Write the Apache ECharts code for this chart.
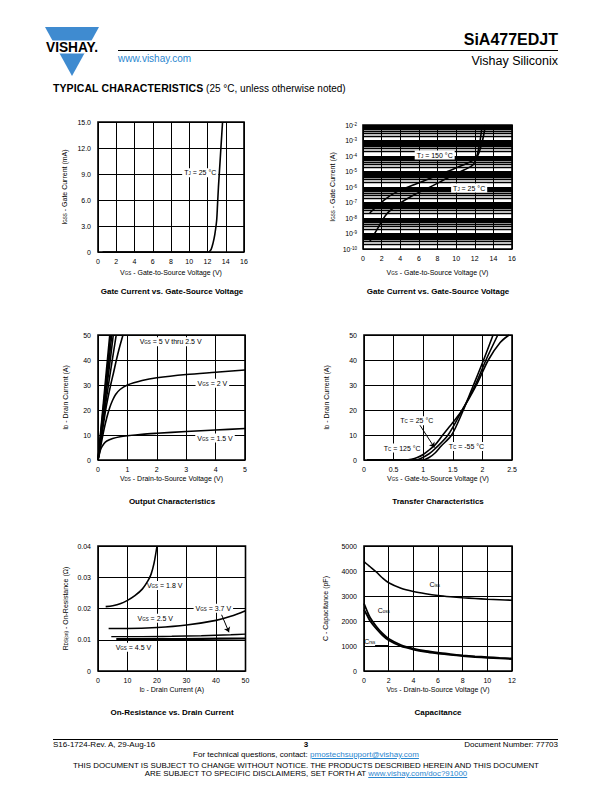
<!DOCTYPE html>
<html><head><meta charset="utf-8">
<script src="https://cdn.jsdelivr.net/npm/echarts@6/dist/echarts.min.js"></script>
<style>
body{margin:0;width:612px;height:792px;position:relative;font-family:"Liberation Sans",Arial,sans-serif;background:#fff;overflow:hidden;color:#000}
#c{position:absolute;left:0;top:0;width:612px;height:792px}
.t{position:absolute;white-space:nowrap;line-height:1}
.ctr{transform:translateX(-50%)}
.ttl{font-weight:bold;font-size:8px}
a{color:#2a86cf;text-decoration:underline}
</style></head><body>
<div id="c"></div>
<svg style="position:absolute;left:0;top:0" width="130" height="90">
<polygon points="45,27 99,27 72,76" fill="#3f8bd0"/>
<rect x="38" y="40.5" width="68" height="13" fill="#fff"/>
<text x="72" y="52" text-anchor="middle" font-family="Liberation Sans" font-weight="bold" font-size="14" textLength="52" lengthAdjust="spacingAndGlyphs">VISHAY.</text>
</svg>
<div class="t" style="right:54px;top:32px;font-size:16px;font-weight:bold">SiA477EDJT</div>
<div style="position:absolute;left:118px;top:50px;width:440px;height:1px;background:#000"></div>
<div class="t" style="right:54px;top:55px;font-size:12.5px">Vishay Siliconix</div>
<div class="t" style="left:118px;top:54px;font-size:10px;color:#2a86cf">www.vishay.com</div>
<div class="t" style="left:53px;top:83px;font-size:10px"><b style="font-size:10.5px;letter-spacing:0.1px">TYPICAL CHARACTERISTICS</b> <span style="font-size:10px">(25 °C, unless otherwise noted)</span></div>

<div class="t ttl ctr" style="left:172px;top:288px">Gate Current vs. Gate-Source Voltage</div>
<div class="t ttl ctr" style="left:438px;top:288px">Gate Current vs. Gate-Source Voltage</div>
<div class="t ttl ctr" style="left:172px;top:498px">Output Characteristics</div>
<div class="t ttl ctr" style="left:438px;top:498px">Transfer Characteristics</div>
<div class="t ttl ctr" style="left:172px;top:709px">On-Resistance vs. Drain Current</div>
<div class="t ttl ctr" style="left:438px;top:709px">Capacitance</div>

<div style="position:absolute;left:53px;top:739px;width:505px;height:1px;background:#000"></div>
<div class="t" style="left:53px;top:741px;font-size:8px">S16-1724-Rev. A, 29-Aug-16</div>
<div class="t ctr" style="left:306px;top:741px;font-size:8px;font-weight:bold">3</div>
<div class="t" style="right:54px;top:741px;font-size:8px">Document Number: 77703</div>
<div class="t ctr" style="left:306px;top:751px;font-size:8px">For technical questions, contact: <a>pmostechsupport@vishay.com</a></div>
<div class="t ctr" style="left:306px;top:762px;font-size:7.9px">THIS DOCUMENT IS SUBJECT TO CHANGE WITHOUT NOTICE. THE PRODUCTS DESCRIBED HEREIN AND THIS DOCUMENT</div>
<div class="t ctr" style="left:306px;top:770px;font-size:7.9px">ARE SUBJECT TO SPECIFIC DISCLAIMERS, SET FORTH AT <a>www.vishay.com/doc?91000</a></div>

<script>
// ---------- DATA ----------
// Chart 1: Gate current vs VGS (linear, mA)
const gateVgs = [0.5, 2, 4, 6, 8, 10, 12, 12.2, 12.4, 12.6, 12.8, 13.0, 13.1, 13.2, 13.35, 13.5, 13.65];
const gateI25 = [0, 0, 0, 0, 0, 0, 0, 0.05, 0.3, 1.0, 2.0, 3.6, 5.5, 7.5, 10, 12.5, 15];
const gateYTicks = ['0', '3.0', '6.0', '9.0', '12.0', '15.0'];

// Chart 2: Gate current vs VGS (log, A)
const logVgs150 = [0.72, 2.33, 3.76, 5.55, 7.34, 9.13, 10.9, 11.6, 12.2, 12.6, 12.9, 13.15];
const logI150 = [2.1e-8, 1.55e-7, 5.4e-7, 1.45e-6, 3.9e-6, 1.05e-5, 2.8e-5, 4.5e-5, 8e-5, 3e-4, 1.5e-3, 1e-2];
const logVgs25 = [0.72, 1.61, 2.5, 3.76, 5.55, 7.34, 9.13, 10.9, 11.8, 12.2, 12.5, 12.8];
const logI25 = [3e-10, 2.3e-9, 1.7e-8, 7.4e-8, 3.3e-7, 1.1e-6, 3.9e-6, 1.3e-5, 2.6e-5, 9e-5, 5e-4, 1e-2];
const logExpTicks = [-10, -9, -8, -7, -6, -5, -4, -3, -2];

// Chart 3: Output characteristics (VDS, ID)
const outVds15 = [0, 0.05, 0.1, 0.2, 0.3, 0.5, 0.75, 1, 1.5, 2, 3, 4, 5];
const outId15  = [0, 2.5, 4.5, 6.5, 7.6, 8.6, 9.3, 9.7, 10.3, 10.7, 11.4, 12, 12.6];
const outVds2 = [0, 0.1, 0.2, 0.3, 0.4, 0.5, 0.6, 0.75, 1, 1.5, 2, 3, 4, 5];
const outId2  = [0, 6, 12, 17, 21, 24, 26.2, 28.2, 30, 31.8, 32.9, 34.2, 35.1, 36];
const outVds25 = [0, 0.1, 0.26, 0.43, 0.53, 0.625, 0.73, 0.85];
const outId25  = [0, 7.5, 20, 30, 35, 40, 45, 50];
const outVds3 = [0, 0.2, 0.4, 0.62];
const outId3  = [0, 17.5, 33.5, 50];
const outVds35 = [0, 0.2, 0.4, 0.52];
const outId35  = [0, 19.5, 38.5, 50];
const outVds4 = [0, 0.2, 0.47];
const outId4  = [0, 21, 50];
const outVds45 = [0, 0.2, 0.43];
const outId45  = [0, 23, 50];
const outVds5 = [0, 0.2, 0.4];
const outId5  = [0, 25, 50];

// Chart 4: Transfer characteristics (VGS, ID)
const trVgs125 = [0.05, 0.7, 0.8, 0.9, 1.0, 1.1, 1.2, 1.33, 1.5, 1.66, 1.9, 2.1, 2.3, 2.45];
const trId125  = [0, 0, 0.3, 1, 2.2, 4, 6, 10, 15, 20, 30, 40, 47, 50];
const trVgs25 = [0.05, 0.85, 0.95, 1.1, 1.2, 1.42, 1.66, 1.88, 2.06, 2.26];
const trId25  = [0, 0, 0.5, 2.5, 4.5, 10, 20, 30, 40, 50];
const trVgsM55 = [0.05, 1.0, 1.1, 1.2, 1.3, 1.48, 1.66, 1.85, 2.02, 2.18];
const trIdM55  = [0, 0, 1, 2.8, 5.5, 10, 19, 30, 40, 50];

// Chart 5: On-resistance vs drain current
const rId18 = [2.6, 5, 7.5, 10, 12.5, 15, 17, 18, 19, 20];
const rOn18 = [0.0206, 0.0209, 0.0215, 0.0226, 0.0241, 0.0262, 0.0290, 0.0310, 0.0345, 0.0400];
const rId25 = [3.6, 10, 20, 30, 40, 45, 50];
const rOn25 = [0.0136, 0.0136, 0.0139, 0.0147, 0.0162, 0.0175, 0.0193];
const rId37 = [4.5, 15, 25, 35, 45, 50];
const rOn37 = [0.0110, 0.0110, 0.0111, 0.0113, 0.0116, 0.0118];
const rId45 = [6.2, 20, 35, 50];
const rOn45 = [0.0102, 0.0102, 0.0103, 0.0104];

// Chart 6: Capacitance vs VDS
const capVds = [0, 0.25, 0.5, 1, 1.5, 2, 3, 4, 5, 6, 7, 8, 9, 10, 11, 12];
const cIss = [4380, 4270, 4170, 3960, 3720, 3530, 3310, 3180, 3090, 3020, 2970, 2930, 2900, 2870, 2850, 2830];
const cOss = [2700, 2400, 2130, 1780, 1500, 1290, 1040, 900, 800, 730, 675, 625, 585, 555, 525, 500];
const cRss = [2450, 2230, 2000, 1690, 1430, 1230, 990, 860, 765, 700, 645, 600, 560, 530, 505, 480];

// ---------- CHART ----------
const FF = 'Liberation Sans';
const RICH = {
  n: {fontSize: 7, color: '#000', fontFamily: FF},
  s: {fontSize: 4.5, color: '#000', fontFamily: FF, verticalAlign: 'bottom'},
  sup: {fontSize: 4.5, color: '#000', fontFamily: FF, verticalAlign: 'top'}
};
const pair = (xs, ys) => xs.map((x, i) => [x, ys[i]]);
const lg = v => Math.log10(v);

const grids = [
  {left: 98, top: 122, width: 146, height: 130},
  {left: 363, top: 125, width: 149, height: 124},
  {left: 98, top: 335, width: 147, height: 125},
  {left: 364, top: 335, width: 148, height: 125},
  {left: 98, top: 546, width: 147.5, height: 125},
  {left: 364, top: 546, width: 148, height: 125}
].map(g => Object.assign({show: true, borderColor: '#000', borderWidth: 1.6, backgroundColor: '#fff', containLabel: false}, g));

function xAx(gi, min, max, interval, name, gap, extra) {
  return Object.assign({
    type: 'value', gridIndex: gi, min, max, interval,
    name, nameLocation: 'middle', nameGap: gap,
    nameTextStyle: {fontSize: 7, color: '#000', fontFamily: FF, rich: RICH},
    axisLine: {show: false}, axisTick: {show: false},
    axisLabel: {fontSize: 7, color: '#000', fontFamily: FF, margin: 6},
    splitLine: {show: true, lineStyle: {color: '#000', width: 1}}
  }, extra || {});
}
function yAx(gi, min, max, interval, name, gap, extra) {
  return Object.assign({
    type: 'value', gridIndex: gi, min, max, interval,
    name, nameLocation: 'middle', nameGap: gap, nameRotate: 90,
    nameTextStyle: {fontSize: 7, color: '#000', fontFamily: FF, rich: RICH},
    axisLine: {show: false}, axisTick: {show: false},
    axisLabel: {fontSize: 7, color: '#000', fontFamily: FF, margin: 7},
    splitLine: {show: true, lineStyle: {color: '#000', width: 1}}
  }, extra || {});
}
function line(gi, xs, ys, w, extra) {
  return Object.assign({
    type: 'line', xAxisIndex: gi, yAxisIndex: gi, data: pair(xs, ys),
    showSymbol: false, symbol: 'none', smooth: 0.3,
    lineStyle: {color: '#000', width: w || 1.5}, silent: true, z: 5
  }, extra || {});
}
function lbl(coord, text, bg) {
  return {coord, symbol: 'rect', symbolSize: 0,
    label: {show: true, position: 'inside', formatter: text, rich: RICH, color: '#000', fontSize: 7, fontFamily: FF,
      backgroundColor: bg === false ? 'transparent' : '#fff', padding: [1, 2]}};
}
function marks(items) { return {silent: true, animation: false, data: items}; }
function arrow(a, b, head) {
  return {silent: true, animation: false, symbol: ['none', head ? 'arrow' : 'none'], symbolSize: 5,
    label: {show: false}, lineStyle: {color: '#000', width: 1, type: 'solid'},
    data: [[{coord: a}, {coord: b}]]};
}

// log-decade minor grid positions (2..9 x 10^e), expressed in the log10 axis
const minorLog = [];
for (let e = -10; e < -2; e++) for (let m = 2; m <= 9; m++) minorLog.push(e + Math.log10(m));

const option = {
  animation: false,
  grid: grids,
  xAxis: [
    xAx(0, 0, 16, 2, '{n|V}{s|GS}{n| - Gate-to-Source Voltage (V)}', 17),
    xAx(1, 0, 16, 2, '{n|V}{s|GS}{n| - Gate-to-Source Voltage (V)}', 20),
    xAx(2, 0, 5, 1, '{n|V}{s|DS}{n| - Drain-to-Source Voltage (V)}', 15),
    xAx(3, 0, 2.5, 0.5, '{n|V}{s|GS}{n| - Gate-to-Source Voltage (V)}', 15),
    xAx(4, 0, 50, 10, '{n|I}{s|D}{n| - Drain Current (A)}', 15),
    xAx(5, 0, 12, 2, '{n|V}{s|DS}{n| - Drain-to-Source Voltage (V)}', 15)
  ],
  yAxis: [
    yAx(0, 0, 15, 3, '{n|I}{s|GSS}{n| - Gate Current (mA)}', 30,
      {axisLabel: {fontSize: 7, color: '#000', fontFamily: FF, margin: 7, formatter: v => gateYTicks[Math.round(v / 3)]}}),
    yAx(1, logExpTicks[0], logExpTicks[logExpTicks.length - 1], 1, '{n|I}{s|GSS}{n| - Gate Current (A)}', 27,
      {axisLabel: {fontSize: 7, color: '#000', fontFamily: FF, margin: 6, rich: RICH,
         formatter: v => '{n|10}{sup|' + Math.round(v) + '}'}}),
    yAx(2, 0, 50, 10, '{n|I}{s|D}{n| - Drain Current (A)}', 29),
    yAx(3, 0, 50, 10, '{n|I}{s|D}{n| - Drain Current (A)}', 34),
    yAx(4, 0, 0.04, 0.01, '{n|R}{s|DS(on)}{n| - On-Resistance (Ω)}', 29,
      {axisLabel: {fontSize: 7, color: '#000', fontFamily: FF, margin: 7, formatter: v => v === 0 ? '0' : v.toFixed(2)}}),
    yAx(5, 0, 5000, 1000, '{n|C - Capacitance (pF)}', 35,
      {axisLabel: {fontSize: 7, color: '#000', fontFamily: FF, margin: 7, formatter: v => String(v)}})
  ],
  series: [
    // chart 1
    line(0, gateVgs, gateI25, 1.6, {markPoint: marks([lbl([11.2, 9.15], '{n|T}{s|J}{n| = 25 °C}')])}),
    // chart 2 (log10 of current on a value axis)
    line(1, logVgs150, logI150.map(lg), 1.6, {z: 4,
      markLine: {silent: true, animation: false, symbol: 'none', label: {show: false},
        lineStyle: {color: '#000', width: 1.3, type: 'solid'}, data: minorLog.map(v => ({yAxis: v}))}
    }),
    line(1, logVgs25, logI25.map(lg), 1.6, {z: 6,
      markPoint: marks([lbl([7.7, lg(1.15e-4)], '{n|T}{s|J}{n| = 150 °C}'), lbl([11.4, lg(8.5e-7)], '{n|T}{s|J}{n| = 25 °C}')])
    }),
    // chart 3
    line(2, outVds15, outId15, 1.6, {markPoint: marks([
      lbl([2.47, 47.3], '{n|V}{s|GS}{n| = 5 V thru 2.5 V}'),
      lbl([3.89, 30.7], '{n|V}{s|GS}{n| = 2 V}'),
      lbl([3.98, 8.8], '{n|V}{s|GS}{n| = 1.5 V}')])}),
    line(2, outVds2, outId2, 1.6),
    line(2, outVds25, outId25, 1.6),
    line(2, outVds3, outId3, 1.6),
    line(2, outVds35, outId35, 1.6),
    line(2, outVds4, outId4, 1.6),
    line(2, outVds45, outId45, 1.6),
    line(2, outVds5, outId5, 1.6),
    // chart 4
    line(3, trVgs125, trId125, 1.6, {markPoint: marks([
      lbl([0.89, 15.7], '{n|T}{s|C}{n| = 25 °C}'),
      lbl([0.645, 4.8], '{n|T}{s|C}{n| = 125 °C}'),
      lbl([1.73, 5.4], '{n|T}{s|C}{n| = -55 °C}')]),
      markLine: arrow([0.94, 14.1], [1.19, 5.0], true)}),
    line(3, trVgs25, trId25, 1.6),
    line(3, trVgsM55, trIdM55, 1.6),
    // chart 5
    line(4, rId18, rOn18, 1.6, {markPoint: marks([
      lbl([22.6, 0.0274], '{n|V}{s|GS}{n| = 1.8 V}'),
      lbl([19.4, 0.0169], '{n|V}{s|GS}{n| = 2.5 V}'),
      lbl([39.1, 0.0201], '{n|V}{s|GS}{n| = 3.7 V}'),
      lbl([12, 0.0076], '{n|V}{s|GS}{n| = 4.5 V}')]),
      markLine: arrow([41.9, 0.0180], [44.4, 0.0124], true)}),
    line(4, rId25, rOn25, 1.6),
    line(4, rId37, rOn37, 1.4),
    line(4, rId45, rOn45, 2.2),
    // chart 6
    line(5, capVds, cIss, 1.6, {markPoint: marks([
      lbl([5.73, 3448], '{n|C}{s|iss}', false),
      lbl([1.6, 2406], '{n|C}{s|oss}', false),
      lbl([0.46, 1175], '{n|C}{s|rss}', false)]),
      markLine: arrow([0.9, 1014], [1.95, 1014], false)}),
    line(5, capVds, cOss, 1.8),
    line(5, capVds, cRss, 1.8)
  ]
};
const chart = echarts.init(document.getElementById('c'), null, {renderer: 'svg', width: 612, height: 792});
chart.setOption(option);
</script>
</body></html>
